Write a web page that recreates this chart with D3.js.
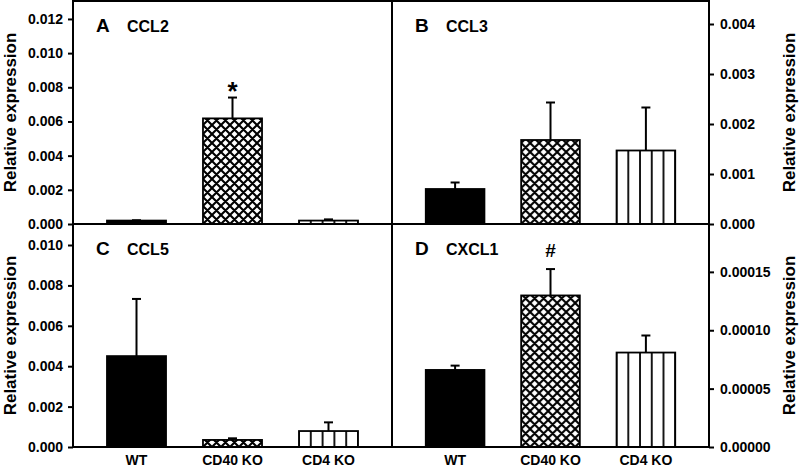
<!DOCTYPE html>
<html><head><meta charset="utf-8">
<script src="https://cdn.jsdelivr.net/npm/d3@7"></script>
<style>body{margin:0;background:#fff;} svg{display:block;font-family:"Liberation Sans",Arial,sans-serif;}</style>
</head><body><svg id="c" width="800" height="468"></svg>
<script>
// ---- data ----
const categories = ["WT", "CD40 KO", "CD4 KO"];
const panelLetters = ["A", "B", "C", "D"];
const panelGenes = ["CCL2", "CCL3", "CCL5", "CXCL1"];
const ccl2Mean = [0.0002, 0.00618, 0.0002];
const ccl2Err = [0.00002, 0.00122, 0.00007];
const ccl3Mean = [0.0007, 0.00168, 0.00147];
const ccl3Err = [0.00013, 0.00075, 0.00086];
const ccl5Mean = [0.0045, 0.00035, 0.00079];
const ccl5Err = [0.00283, 0.00008, 0.00043];
const cxcl1Mean = [0.000066, 0.0001298, 0.0000809];
const cxcl1Err = [0.0000037, 0.0000226, 0.0000146];
const ccl2Ticks = [0, 0.002, 0.004, 0.006, 0.008, 0.010, 0.012];
const ccl3Ticks = [0, 0.001, 0.002, 0.003, 0.004];
const ccl5Ticks = [0, 0.002, 0.004, 0.006, 0.008, 0.010];
const cxcl1Ticks = [0, 0.00005, 0.0001, 0.00015];
const yMaxes = [0.01305, 0.00446, 0.01104, 0.000191];
const tickFormats = [".3f", ".3f", ".3f", ".5f"];
const annotations = ["*", "", "", "#"]; // placed over CD40 KO
const annotatedCategory = "CD40 KO";
const yTitle = "Relative expression";

// ---- layout ----
const L = 73, M = 392, R = 709, T = 1, H = 224, B = 447;
const layouts = [
  {x0: L, x1: M, y0: T, y1: H, side: "left"},
  {x0: M, x1: R, y0: T, y1: H, side: "right"},
  {x0: L, x1: M, y0: H, y1: B, side: "left"},
  {x0: M, x1: R, y0: H, y1: B, side: "right"}
];
const means = [ccl2Mean, ccl3Mean, ccl5Mean, cxcl1Mean];
const errs = [ccl2Err, ccl3Err, ccl5Err, cxcl1Err];
const ticks = [ccl2Ticks, ccl3Ticks, ccl5Ticks, cxcl1Ticks];

const svg = d3.select("#c");
const defs = svg.append("defs");

layouts.forEach((lay, pi) => {
  const g = svg.append("g");
  const x = d3.scaleBand().domain(categories).range([lay.x0, lay.x1])
    .paddingInner(0.385).paddingOuter(0.354);
  const y = d3.scaleLinear().domain([0, yMaxes[pi]]).range([lay.y1, lay.y0]);
  const bw = x.bandwidth();

  // patterns
  const P = 9;
  const xh = defs.append("pattern").attr("id", "xh" + pi)
    .attr("patternUnits", "userSpaceOnUse").attr("width", P).attr("height", P)
    .attr("x", x("CD40 KO")).attr("y", lay.y1);
  xh.append("rect").attr("width", P).attr("height", P).attr("fill", "#fff");
  let d = "";
  [-1, 0, 1].forEach(k => {
    d += `M${k*P},0L${k*P+P},${P}`;
    d += `M0,${P+k*P}L${P+k*P},0`;
  });
  xh.append("path").attr("d", d).attr("stroke", "#000").attr("stroke-width", 2.1).attr("fill", "none");

  const sw = bw / 5;
  const vs = defs.append("pattern").attr("id", "vs" + pi)
    .attr("patternUnits", "userSpaceOnUse").attr("width", sw).attr("height", 10)
    .attr("x", x("CD4 KO") - sw / 2).attr("y", 0);
  vs.append("rect").attr("width", sw).attr("height", 10).attr("fill", "#fff");
  vs.append("line").attr("x1", sw / 2).attr("x2", sw / 2).attr("y1", 0).attr("y2", 10)
    .attr("stroke", "#000").attr("stroke-width", 1.8);

  const fills = {"WT": "#000", "CD40 KO": `url(#xh${pi})`, "CD4 KO": `url(#vs${pi})`};

  const data = categories.map((c, i) => ({c, m: means[pi][i], e: errs[pi][i]}));

  // error bars (drawn behind bars)
  const eb = g.append("g");
  eb.selectAll("line.v").data(data).join("line")
    .attr("x1", d => x(d.c) + bw / 2).attr("x2", d => x(d.c) + bw / 2)
    .attr("y1", d => y(d.m)).attr("y2", d => y(d.m + d.e))
    .attr("stroke", "#000").attr("stroke-width", 2);
  eb.selectAll("line.cap").data(data).join("line")
    .attr("x1", d => x(d.c) + bw / 2 - 4.5).attr("x2", d => x(d.c) + bw / 2 + 4.5)
    .attr("y1", d => y(d.m + d.e)).attr("y2", d => y(d.m + d.e))
    .attr("stroke", "#000").attr("stroke-width", 2);

  // bars
  g.selectAll("rect.bar").data(data).join("rect")
    .attr("x", d => x(d.c)).attr("width", bw)
    .attr("y", d => y(d.m)).attr("height", d => y(0) - y(d.m))
    .attr("fill", d => fills[d.c]).attr("stroke", "#000").attr("stroke-width", 1.8);

  // annotation
  if (annotations[pi]) {
    const a = data.find(d => d.c === annotatedCategory);
    const star = annotations[pi] === "*";
    g.append("text").attr("x", x(a.c) + bw / 2)
      .attr("y", y(a.m + a.e) + (star ? 2 : -12))
      .attr("text-anchor", "middle").attr("font-weight", "bold")
      .attr("font-size", star ? 26 : 19).text(annotations[pi]);
  }

  // axis
  const axis = (lay.side === "left" ? d3.axisLeft(y) : d3.axisRight(y))
    .tickValues(ticks[pi]).tickFormat(d3.format(tickFormats[pi]))
    .tickSize(5).tickPadding(lay.side === "left" ? 5 : 6);
  const ag = g.append("g")
    .attr("transform", `translate(${lay.side === "left" ? lay.x0 : lay.x1},0)`)
    .call(axis);
  ag.select(".domain").remove();
  ag.selectAll(".tick line").attr("stroke-width", 2);
  ag.selectAll(".tick text").attr("font-size", 14).attr("font-weight", "bold")
    .attr("font-family", '"Liberation Sans", Arial, sans-serif').attr("fill", "#000");

  // y title
  const tx = lay.side === "left" ? 10 : 789;
  const ty = (lay.y0 + lay.y1) / 2;
  g.append("text").attr("transform", `translate(${tx},${ty}) rotate(-90)`)
    .attr("text-anchor", "middle").attr("dominant-baseline", "central")
    .attr("font-size", 17).attr("font-weight", "bold").text(yTitle);

  // panel letter & gene
  g.append("text").attr("x", lay.x0 + 23).attr("y", lay.y0 + 31)
    .attr("font-size", 19).attr("font-weight", "bold").text(panelLetters[pi]);
  g.append("text").attr("x", lay.x0 + 54).attr("y", lay.y0 + 31)
    .attr("font-size", 16).attr("font-weight", "bold").text(panelGenes[pi]);

  // category labels on bottom panels
  if (lay.y1 === B) {
    g.selectAll("text.cat").data(categories).join("text")
      .attr("x", c => x(c) + bw / 2).attr("y", 465)
      .attr("text-anchor", "middle").attr("font-size", 14).attr("font-weight", "bold")
      .text(c => c);
  }
});

// frame lines
const frame = [
  [L, T, R, T], [L, H, R, H], [L, B, R, B],
  [L, T, L, B], [M, T, M, B], [R, T, R, B]
];
svg.append("g").selectAll("line").data(frame).join("line")
  .attr("x1", d => d[0]).attr("y1", d => d[1]).attr("x2", d => d[2]).attr("y2", d => d[3])
  .attr("stroke", "#000").attr("stroke-width", 2).attr("stroke-linecap", "square");
</script></body></html>
